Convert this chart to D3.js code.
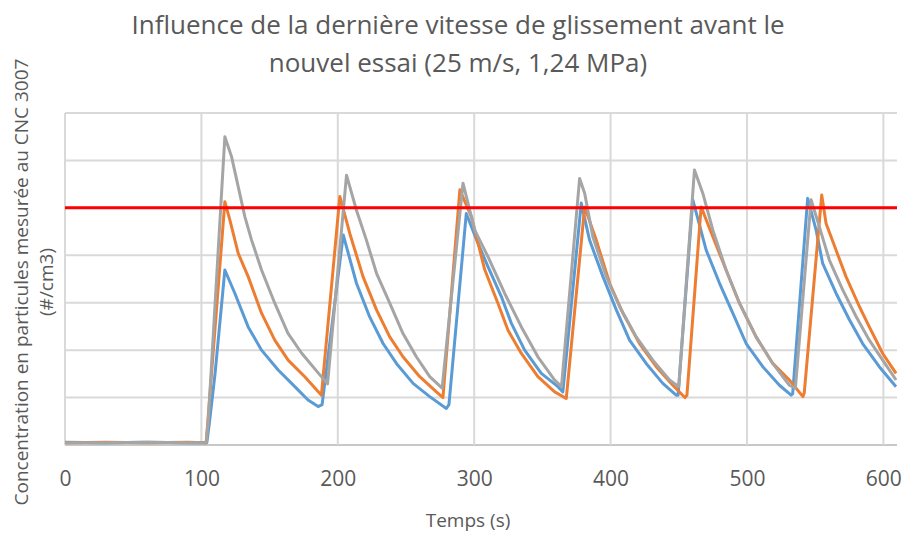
<!DOCTYPE html>
<html>
<head>
<meta charset="utf-8">
<script src="https://cdn.jsdelivr.net/npm/d3@7"></script>
<style>
  body { margin: 0; background: #fff; }
  text { font-family: "Open Sans", sans-serif; fill: #595959; }
</style>
</head>
<body>
<div id="chart"></div>
<script>
let W = 907, H = 535;
let margin = {top: 113, right: 10, bottom: 90, left: 65};

let titleLines = ["Influence de la dernière vitesse de glissement avant le", "nouvel essai (25 m/s, 1,24 MPa)"];
let xTicks = [0, 100, 200, 300, 400, 500, 600];
let yGrid = [0, 1, 2, 3, 4, 5, 6, 7];
let limit = 5;

// [temps (s), concentration]
let blue = [[0,0.06],[30,0.05],[60,0.06],[90,0.05],[104,0.05],[106,0.5],[110,1.5],[117.2,3.69],
  [124.5,3.2],[134.3,2.49],[144.1,2.0],[156.3,1.58],[168.5,1.23],[178.2,0.95],[185.6,0.81],[188.5,0.85],
  [204,4.43],[213.7,3.41],[223.4,2.7],[233.2,2.14],[243,1.72],[255.2,1.3],[267.4,1.02],[279.6,0.77],[281.5,0.85],
  [294.2,4.88],[302.8,4.25],[310.1,3.76],[319.9,3.13],[327.2,2.57],[337,2.0],[349.2,1.51],[361.4,1.23],[365,1.12],
  [378.5,5.1],[384.6,4.32],[394.4,3.55],[404.2,2.85],[413.9,2.21],[426.1,1.72],[438.3,1.3],[448.1,1.05],[449.5,1.05],
  [460.3,5.17],[470.1,4.11],[479.9,3.41],[489.6,2.78],[499.4,2.14],[511.6,1.65],[523.8,1.26],[532.4,1.05],[533.5,1.08],
  [544.5,5.2],[550.7,4.53],[555.5,3.83],[565.3,3.2],[575.1,2.64],[584.8,2.14],[597,1.65],[609.3,1.23]];

let orange = [[0,0.05],[30,0.06],[60,0.05],[90,0.06],[103.5,0.05],[117.2,5.13],[120.9,4.74],[127,4.04],
  [134.3,3.55],[144.1,2.78],[153.8,2.21],[163.6,1.79],[175.8,1.44],[188,1.05],
  [201.5,5.24],[208.8,4.46],[218.5,3.55],[228.4,2.85],[238.1,2.28],[247.8,1.86],[260.1,1.44],[272.3,1.12],[277.1,1.0],
  [289.5,5.38],[298,4.81],[307.7,3.7],[317.4,2.99],[324.8,2.42],[334.6,1.93],[346.7,1.44],[359,1.12],[367.5,0.98],
  [381,5.02],[389.5,4.32],[399.3,3.41],[409,2.78],[421.2,2.14],[433.5,1.65],[445.6,1.26],[454.5,1.0],[456,1.05],
  [466.4,5.02],[475,4.39],[484.7,3.69],[494.5,2.99],[506.7,2.28],[518.9,1.72],[531.1,1.37],[541,1.02],[542,1.1],
  [554.8,5.27],[558,4.67],[565.3,4.11],[572.6,3.55],[582.4,2.92],[589.7,2.49],[599.5,1.93],[609.3,1.51]];

let gray = [[0,0.05],[30,0.05],[60,0.06],[90,0.05],[103.5,0.05],[105,0.5],[117.2,6.5],[122.1,6.08],[131.9,4.81],
  [136.8,4.32],[144.1,3.69],[153.8,2.99],[163.4,2.36],[173.4,1.94],[185.6,1.52],[192.5,1.29],
  [206.4,5.69],[213.7,4.95],[221,4.32],[228.4,3.62],[238.1,2.99],[247.8,2.35],[257.6,1.86],[267.4,1.44],[276.5,1.2],
  [291.8,5.52],[300.4,4.53],[310.1,3.97],[322.3,3.2],[334.6,2.49],[346.7,1.86],[359,1.37],[364,1.23],
  [377.3,5.62],[381,5.31],[387,4.39],[396.8,3.55],[406.6,2.92],[418.8,2.28],[431,1.79],[443.2,1.37],[450,1.23],
  [461.5,5.8],[467.6,5.31],[475,4.53],[484.7,3.69],[494.5,2.99],[506.7,2.28],[518.9,1.72],[531.1,1.26],[535.5,1.2],
  [547,5.17],[553.1,4.6],[560.4,3.9],[570.2,3.27],[580,2.71],[589.7,2.21],[599.5,1.79],[609.3,1.37]];

let series = [
  {data: blue, color: "#5B9BD5"},
  {data: orange, color: "#ED7D31"},
  {data: gray, color: "#A5A5A5"}
];

let svg = d3.select('#chart')
  .append('svg')
  .attr('width', W)
  .attr('height', H);

let x = d3.scaleLinear()
  .domain([0, 610])
  .range([margin.left, W - margin.right]);

let y = d3.scaleLinear()
  .domain([0, 7])
  .range([H - margin.bottom, margin.top]);

// grid
svg.append('g')
  .selectAll('line')
  .data(yGrid)
  .enter()
  .append('line')
    .attr('x1', x(0)).attr('x2', x(610))
    .attr('y1', d => y(d)).attr('y2', d => y(d))
    .attr('stroke', d => d === 0 ? '#C8C8C8' : '#D9D9D9')
    .attr('stroke-width', 2);

svg.append('g')
  .selectAll('line')
  .data(xTicks)
  .enter()
  .append('line')
    .attr('x1', d => x(d)).attr('x2', d => x(d))
    .attr('y1', y(0)).attr('y2', y(7))
    .attr('stroke', '#D9D9D9')
    .attr('stroke-width', 2);

// x axis labels
let xAxis = d3.axisBottom(x).tickValues(xTicks).tickSize(0).tickPadding(26);
let gx = svg.append('g')
  .attr('transform', 'translate(0,' + y(0) + ')')
  .call(xAxis);
gx.select('.domain').remove();
gx.selectAll('text')
  .style('font-size', '21px')
  .style('font-family', '"Open Sans", sans-serif')
  .attr('fill', '#595959');

// lines
let line = d3.line()
  .x(d => x(d[0]))
  .y(d => y(d[1]));

svg.append('defs').append('clipPath').attr('id', 'clip')
  .append('rect')
  .attr('x', x(0)).attr('y', y(7) - 10)
  .attr('width', x(610) - x(0)).attr('height', y(0) - y(7) + 10);

svg.append('g')
  .attr('clip-path', 'url(#clip)')
  .selectAll('path')
  .data(series)
  .enter()
  .append('path')
    .attr('d', d => line(d.data))
    .attr('fill', 'none')
    .attr('stroke', d => d.color)
    .attr('stroke-width', 3)
    .attr('stroke-linejoin', 'round');

// seuil
svg.append('line')
  .attr('x1', x(0)).attr('x2', x(610))
  .attr('y1', y(limit)).attr('y2', y(limit))
  .attr('stroke', '#FF0000')
  .attr('stroke-width', 3);

// title
svg.append('g')
  .selectAll('text')
  .data(titleLines)
  .enter()
  .append('text')
    .attr('x', 458)
    .attr('y', (d, i) => 34 + i * 38)
    .attr('text-anchor', 'middle')
    .style('font-size', '26px')
    .text(d => d);

svg.append('text')
  .attr('x', 468)
  .attr('y', 527)
  .attr('text-anchor', 'middle')
  .style('font-size', '19px')
  .text('Temps (s)');

let yl = svg.append('text')
  .attr('transform', 'translate(28,282) rotate(-90)')
  .attr('text-anchor', 'middle')
  .style('font-size', '19px');
yl.append('tspan').attr('x', 0).attr('y', 0).text('Concentration en particules mesurée au CNC 3007');
yl.append('tspan').attr('x', 0).attr('y', 25).text('(#/cm3)');
</script>
</body>
</html>
